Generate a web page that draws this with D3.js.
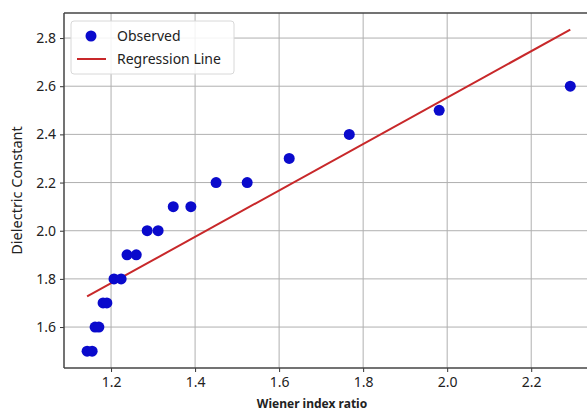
<!DOCTYPE html>
<html>
<head>
<meta charset="utf-8">
<script src="https://cdn.jsdelivr.net/npm/d3@7"></script>
<style>
  body { margin: 0; background: #fff; }
  svg { display: block; }
  text { font-family: "Noto Sans", sans-serif; fill: #222; }
</style>
</head>
<body>
<script>
const svgWidth = 587;
const svgHeight = 412;
const margin = { left: 64, right: -40, top: 13, bottom: 44 };
const width = svgWidth - margin.left - margin.right;
const height = svgHeight - margin.top - margin.bottom;

// observed points
const wienerRatio = [1.143, 1.155, 1.162, 1.171, 1.181, 1.190, 1.207, 1.224, 1.238, 1.260,
    1.286, 1.312, 1.348, 1.390, 1.450, 1.524, 1.624, 1.767, 1.981, 2.293];
const dielectric = [1.5, 1.5, 1.6, 1.6, 1.7, 1.7, 1.8, 1.8, 1.9, 1.9,
    2.0, 2.0, 2.1, 2.1, 2.2, 2.2, 2.3, 2.4, 2.5, 2.6];
const xTicks = [1.2, 1.4, 1.6, 1.8, 2.0, 2.2];
const yTicks = [1.6, 1.8, 2.0, 2.2, 2.4, 2.6, 2.8];

const points = wienerRatio.map((x, i) => ({ x, y: dielectric[i] }));

// least squares fit
const mx = d3.mean(wienerRatio);
const my = d3.mean(dielectric);
const slope = d3.sum(points, (d) => (d.x - mx) * (d.y - my)) / d3.sum(points, (d) => (d.x - mx) ** 2);
const intercept = my - slope * mx;
const xExt = d3.extent(wienerRatio);
const fitLine = xExt.map((x) => ({ x, y: intercept + slope * x }));

const x = d3.scaleLinear().domain([1.088, 2.428]).range([0, width]);
const y = d3.scaleLinear().domain([1.43, 2.904]).range([height, 0]);

const svg = d3.select('body').append('svg')
    .attr('width', svgWidth)
    .attr('height', svgHeight);

const g = svg.append('g')
    .attr('transform', `translate(${margin.left}, ${margin.top})`);

// grid
g.append('g').selectAll('line').data(xTicks).enter().append('line')
    .attr('x1', (d) => x(d)).attr('x2', (d) => x(d))
    .attr('y1', 0).attr('y2', height)
    .attr('stroke', '#b0b0b0').attr('stroke-width', 1);
g.append('g').selectAll('line').data(yTicks).enter().append('line')
    .attr('x1', 0).attr('x2', width)
    .attr('y1', (d) => y(d)).attr('y2', (d) => y(d))
    .attr('stroke', '#b0b0b0').attr('stroke-width', 1);

// axes
const xAxis = g.append('g')
    .attr('transform', `translate(0, ${height})`)
    .call(d3.axisBottom(x).tickValues(xTicks).tickFormat(d3.format('.1f')).tickSizeOuter(0).tickSize(4).tickPadding(5));
const yAxis = g.append('g')
    .call(d3.axisLeft(y).tickValues(yTicks).tickFormat(d3.format('.1f')).tickSizeOuter(0).tickSize(4).tickPadding(4));
[xAxis, yAxis].forEach((a) => {
    a.select('.domain').remove();
    a.selectAll('.tick line').attr('stroke', '#333');
    a.selectAll('.tick text').style('font-size', '14px').attr('fill', '#222');
});

// spines
g.append('line').attr('x1', 0).attr('x2', 0).attr('y1', 0).attr('y2', height)
    .attr('stroke', '#444').attr('stroke-width', 1.5);
g.append('line').attr('x1', 0).attr('x2', width).attr('y1', height).attr('y2', height)
    .attr('stroke', '#444').attr('stroke-width', 1.5);
g.append('line').attr('x1', 0).attr('x2', width).attr('y1', 0).attr('y2', 0)
    .attr('stroke', '#444').attr('stroke-width', 1.5);

// regression line
g.append('path')
    .datum(fitLine)
    .attr('d', d3.line().x((d) => x(d.x)).y((d) => y(d.y)))
    .attr('fill', 'none')
    .attr('stroke', '#c8282a')
    .attr('stroke-width', 2);

// observed points
g.append('g').selectAll('circle').data(points).enter().append('circle')
    .attr('cx', (d) => x(d.x))
    .attr('cy', (d) => y(d.y))
    .attr('r', 5.5)
    .attr('fill', '#0a0acc');

// legend
const legend = g.append('g').attr('transform', 'translate(7, 8)');
legend.append('rect')
    .attr('width', 163).attr('height', 53).attr('rx', 3)
    .attr('fill', '#fff').attr('fill-opacity', 0.85)
    .attr('stroke', '#d8d8d8');
legend.append('circle').attr('cx', 20).attr('cy', 15).attr('r', 5.5).attr('fill', '#0a0acc');
legend.append('line').attr('x1', 6).attr('x2', 35).attr('y1', 38).attr('y2', 38)
    .attr('stroke', '#c8282a').attr('stroke-width', 2);
legend.append('text').attr('x', 46).attr('y', 19.5).style('font-size', '14px').text('Observed');
legend.append('text').attr('x', 46).attr('y', 43).style('font-size', '14px').text('Regression Line');

// axis labels
svg.append('text')
    .attr('transform', `translate(22, ${margin.top + height / 2}) rotate(-90)`)
    .attr('text-anchor', 'middle')
    .style('font-size', '14.5px')
    .text('Dielectric Constant');
svg.append('text')
    .attr('x', 312).attr('y', 408)
    .attr('text-anchor', 'middle')
    .style('font-size', '12px')
    .style('font-weight', 'bold')
    .text('Wiener index ratio');
</script>
</body>
</html>
